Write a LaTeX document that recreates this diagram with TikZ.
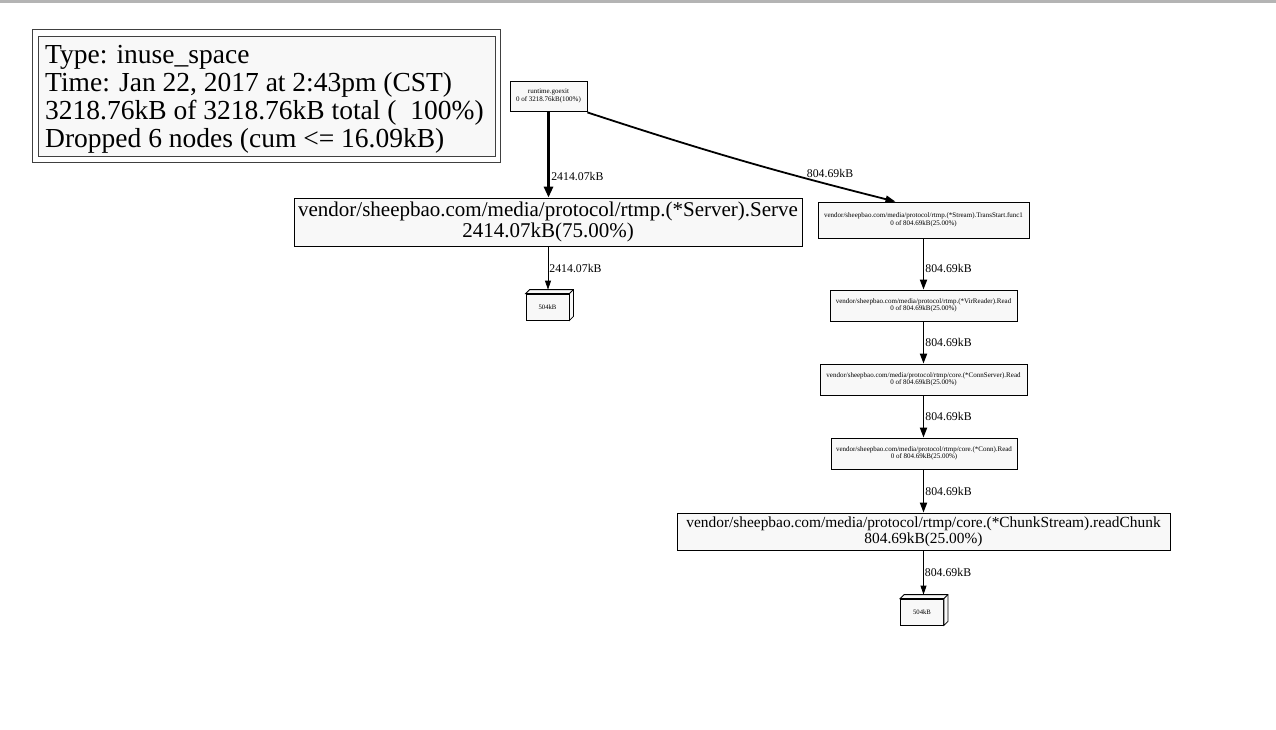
\documentclass[tikz,border=0pt]{standalone}
\usepackage{fontspec}
\setmainfont{Liberation Serif}
\usetikzlibrary{arrows.meta,calc}
\definecolor{nodefill}{HTML}{F8F8F8}
\definecolor{topbar}{HTML}{B4B4B4}
\tikzset{
  fn/.style={draw=black, fill=nodefill, line width=0.8pt, inner sep=0pt, align=center},
  small/.style={fn, font=\fontsize{7}{7.6}\selectfont},
  big/.style={fn, font=\fontsize{21}{20.5}\selectfont},
  mid/.style={fn, font=\fontsize{15.4}{16}\selectfont},
  leaf/.style={fn, font=\fontsize{6.7}{8}\selectfont, minimum width=43pt, minimum height=26pt},
  edge/.style={line width=1.8pt, -{Triangle[length=10pt,width=7pt]}},
  thickedge/.style={line width=3.6pt, -{Triangle[length=11pt,width=9pt]}},
  thinedge/.style={line width=0.8pt, -{Triangle[length=9pt,width=6pt]}},
  elabel/.style={font=\fontsize{11.8}{13}\selectfont, inner sep=1pt}
}
\begin{document}
\begin{tikzpicture}[x=1pt,y=-1pt]
\useasboundingbox (0,0) rectangle (1276,729);
\fill[white] (0,0) rectangle (1276,729);
\fill[topbar] (0,0) rectangle (1276,3);
% legend
\node[draw=black!75, fill=white, line width=0.8pt, minimum width=468pt, minimum height=133pt, inner sep=0pt] (legendouter) at (266,95.5) {};
\node[draw=black!75, fill=nodefill, line width=0.8pt, minimum width=457pt, minimum height=120pt, inner sep=0pt] (legend) at (266.5,96) {};
\node[anchor=west, align=left, inner sep=0pt, font=\fontsize{27.5}{28}\selectfont] (legendtext) at (45,99) {Type: inuse\_space\\Time: Jan 22, 2017 at 2:43pm (CST)\\3218.76kB of 3218.76kB total (\ \ 100\%)\\Dropped 6 nodes (cum <= 16.09kB)};
% nodes
\node[small, minimum width=77pt, minimum height=30pt] (goexit) at (548.5,96) {runtime.goexit\\0 of 3218.76kB(100\%)};
\node[big, minimum width=508pt, minimum height=48pt] (serve) at (548,222) {vendor/sheepbao.com/media/protocol/rtmp.(*Server).Serve\\2414.07kB(75.00\%)};
\node[leaf] (leafa) at (547.5,307) {504kB};
\node[small, minimum width=211pt, minimum height=36pt] (trans) at (923.5,220) {vendor/sheepbao.com/media/protocol/rtmp.(*Stream).TransStart.func1\\0 of 804.69kB(25.00\%)};
\node[small, minimum width=187pt, minimum height=31pt] (virread) at (923.5,305.5) {vendor/sheepbao.com/media/protocol/rtmp.(*VirReader).Read\\0 of 804.69kB(25.00\%)};
\node[small, minimum width=207pt, minimum height=31pt] (connserver) at (923.5,379.5) {vendor/sheepbao.com/media/protocol/rtmp/core.(*ConnServer).Read\\0 of 804.69kB(25.00\%)};
\node[small, minimum width=186pt, minimum height=31pt] (conn) at (924,453.5) {vendor/sheepbao.com/media/protocol/rtmp/core.(*Conn).Read\\0 of 804.69kB(25.00\%)};
\node[mid, minimum width=493pt, minimum height=37pt] (chunk) at (923.5,531.5) {vendor/sheepbao.com/media/protocol/rtmp/core.(*ChunkStream).readChunk\\804.69kB(25.00\%)};
\node[leaf] (leafb) at (922,612) {504kB};
% 3D faces of leaf boxes
\foreach \n in {leafa,leafb}{
  \draw[line width=0.8pt, fill=nodefill] (\n.north west) -- ++(4,-4) -- ($(\n.north east)+(4,-4)$) -- ($(\n.south east)+(4,-4)$) -- (\n.south east) -- (\n.north east) -- cycle;
  \draw[line width=0.8pt] (\n.north east) -- ++(4,-4);
}
% edges
\draw[thickedge] (goexit.south) -- ($(serve.north)+(0.5,0)$) node[elabel, pos=0.75, right] {2414.07kB};
\draw[edge] ([yshift=-1pt]goexit.south east) to[bend right=2] ([xshift=-28pt]trans.north);
\node[elabel] (translabel) at (830,173) {804.69kB};
\draw[thinedge] (serve.south) -- ($(leafa.north)+(0.5,-4)$) node[elabel, midway, right] {2414.07kB};
\draw[edge] (trans.south) -- (virread.north) node[elabel, midway, right, yshift=-4pt] {804.69kB};
\draw[edge] (virread.south) -- (connserver.north) node[elabel, midway, right] {804.69kB};
\draw[edge] (connserver.south) -- ([xshift=-0.5pt]conn.north) node[elabel, midway, right] {804.69kB};
\draw[edge] ([xshift=-0.5pt]conn.south) -- (chunk.north) node[elabel, midway, right] {804.69kB};
\draw[thinedge] (chunk.south) -- ($(leafb.north)+(1.5,-4)$) node[elabel, midway, right] {804.69kB};
\end{tikzpicture}
\end{document}
